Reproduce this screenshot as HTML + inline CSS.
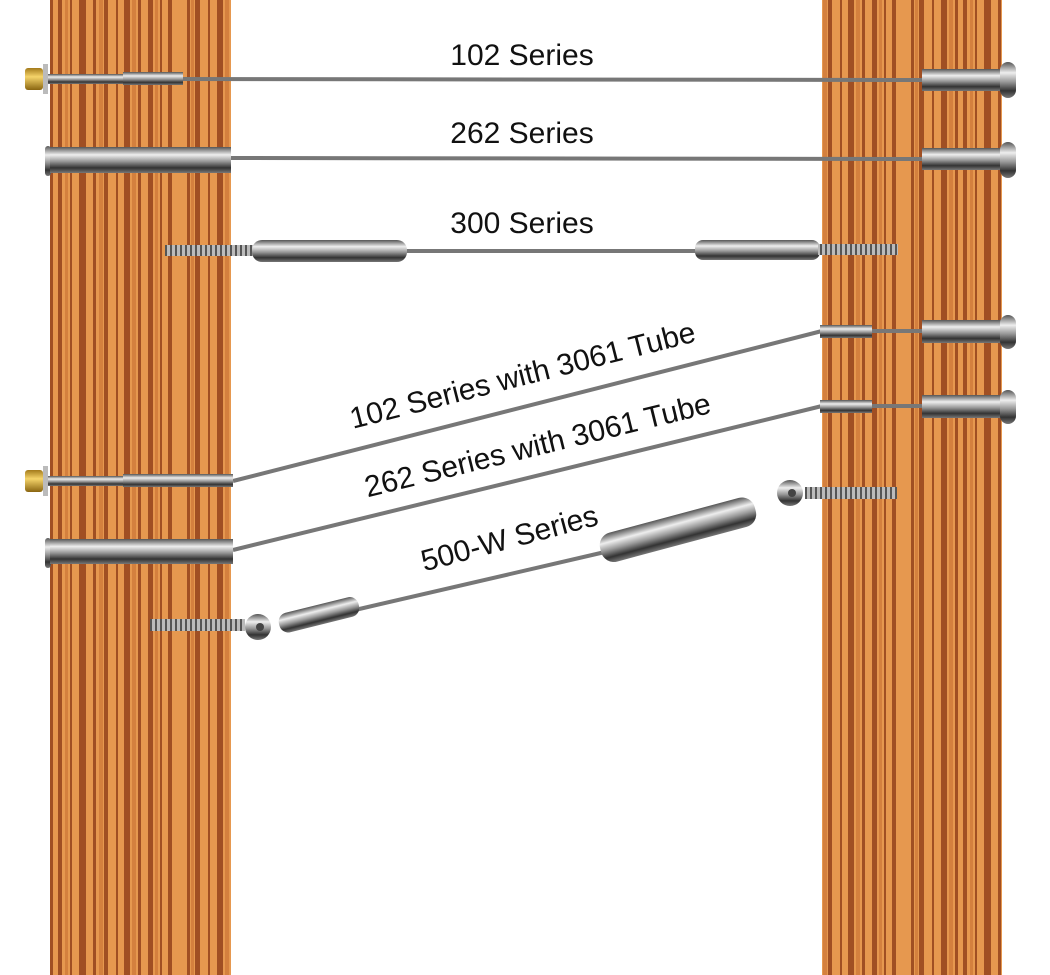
<!DOCTYPE html>
<html><head><meta charset="utf-8"><style>
html,body{margin:0;padding:0;background:#fff;}
svg{display:block;}
text{font-family:"Liberation Sans",sans-serif;fill:#111;}
</style></head><body>
<svg width="1050" height="975" viewBox="0 0 1050 975" xmlns="http://www.w3.org/2000/svg">
<defs>
<pattern id="wood" width="181" height="975" patternUnits="userSpaceOnUse">
<rect width="181" height="975" fill="#e6984f"/>
<g fill="#94421a" opacity="0.85">
<rect x="6" width="3" height="975"/><rect x="14" width="5" height="975"/><rect x="27" width="2" height="975"/>
<rect x="36" width="6" height="975"/><rect x="50" width="3" height="975"/><rect x="58" width="4" height="975"/>
<rect x="70" width="2" height="975"/><rect x="79" width="7" height="975"/><rect x="93" width="3" height="975"/>
<rect x="104" width="4" height="975"/><rect x="116" width="2" height="975"/><rect x="124" width="6" height="975"/>
<rect x="138" width="3" height="975"/><rect x="148" width="5" height="975"/><rect x="160" width="2" height="975"/>
<rect x="168" width="4" height="975"/>
</g>
<g fill="#c86f32" opacity="0.6">
<rect x="10" width="3" height="975"/><rect x="44" width="4" height="975"/><rect x="65" width="3" height="975"/>
<rect x="99" width="4" height="975"/><rect x="132" width="4" height="975"/><rect x="155" width="3" height="975"/>
</g>
</pattern>
<linearGradient id="steel" x1="0" y1="0" x2="0" y2="1">
<stop offset="0" stop-color="#555"/><stop offset="0.3" stop-color="#eee"/><stop offset="0.55" stop-color="#999"/><stop offset="0.8" stop-color="#333"/><stop offset="1" stop-color="#777"/>
</linearGradient>
<linearGradient id="brass" x1="0" y1="0" x2="0" y2="1">
<stop offset="0" stop-color="#a37a1a"/><stop offset="0.4" stop-color="#f5d46a"/><stop offset="1" stop-color="#8a6510"/>
</linearGradient>
<pattern id="thread" width="5" height="12" patternUnits="userSpaceOnUse">
<rect width="5" height="12" fill="#bbb"/><rect width="2" height="12" fill="#555"/>
</pattern>
</defs>
<rect x="50" y="0" width="181" height="975" fill="url(#wood)"/>
<rect x="822" y="0" width="180" height="975" fill="url(#wood)"/>

<g stroke="#777" stroke-width="4" fill="none">
<line x1="180" y1="79" x2="925" y2="80"/>
<line x1="230" y1="158" x2="925" y2="159"/>
<line x1="400" y1="251" x2="700" y2="251"/>
<line x1="233" y1="481" x2="822" y2="331"/>
<line x1="233" y1="550" x2="822" y2="406"/>
<line x1="355" y1="610" x2="605" y2="552"/>
<line x1="870" y1="331" x2="925" y2="331"/>
<line x1="870" y1="406" x2="925" y2="406"/>
</g>

<!-- row1 -->
<rect x="25" y="68" width="18" height="22" rx="3" fill="url(#brass)"/>
<rect x="43" y="64" width="5" height="30" fill="#bbb"/>
<rect x="48" y="74" width="75" height="10" fill="url(#steel)"/>
<rect x="123" y="72" width="60" height="13" fill="url(#steel)"/>
<rect x="922" y="69" width="80" height="22" fill="url(#steel)"/>
<rect x="1000" y="62" width="16" height="36" rx="8" fill="url(#steel)"/>
<!-- row2 -->
<rect x="45" y="146" width="6" height="30" rx="3" fill="url(#steel)"/>
<rect x="50" y="147" width="181" height="26" fill="url(#steel)"/>
<rect x="922" y="148" width="80" height="22" fill="url(#steel)"/>
<rect x="1000" y="142" width="16" height="36" rx="8" fill="url(#steel)"/>
<!-- row3 -->
<rect x="165" y="245" width="90" height="11" fill="url(#thread)"/>
<rect x="252" y="240" width="155" height="22" rx="10" fill="url(#steel)"/>
<rect x="695" y="240" width="125" height="20" rx="8" fill="url(#steel)"/>
<rect x="818" y="244" width="80" height="11" fill="url(#thread)"/>
<!-- row4 -->
<rect x="25" y="470" width="18" height="22" rx="3" fill="url(#brass)"/>
<rect x="43" y="466" width="5" height="30" fill="#bbb"/>
<rect x="48" y="476" width="75" height="10" fill="url(#steel)"/>
<rect x="123" y="474" width="110" height="13" fill="url(#steel)"/>
<rect x="820" y="325" width="52" height="13" fill="url(#steel)"/>
<rect x="922" y="320" width="80" height="23" fill="url(#steel)"/>
<rect x="1000" y="315" width="16" height="34" rx="8" fill="url(#steel)"/>
<!-- row5 -->
<rect x="45" y="538" width="6" height="30" rx="3" fill="url(#steel)"/>
<rect x="50" y="539" width="183" height="25" fill="url(#steel)"/>
<rect x="820" y="400" width="52" height="13" fill="url(#steel)"/>
<rect x="922" y="395" width="80" height="23" fill="url(#steel)"/>
<rect x="1000" y="390" width="16" height="34" rx="8" fill="url(#steel)"/>
<!-- row6 -->
<rect x="150" y="619" width="95" height="12" fill="url(#thread)"/>
<circle cx="258" cy="627" r="13" fill="url(#steel)"/>
<circle cx="260" cy="627" r="4" fill="#444"/>
<g transform="rotate(-14 318 615)"><rect x="278" y="605" width="82" height="20" rx="9" fill="url(#steel)"/></g>
<g transform="rotate(-15 677 530)"><rect x="598" y="515" width="160" height="30" rx="13" fill="url(#steel)"/></g>
<circle cx="790" cy="493" r="13" fill="url(#steel)"/>
<circle cx="792" cy="493" r="4" fill="#444"/>
<rect x="805" y="487" width="92" height="12" fill="url(#thread)"/>

<text x="522" y="65" font-size="30" text-anchor="middle">102 Series</text>
<text x="522" y="143" font-size="30" text-anchor="middle">262 Series</text>
<text x="522" y="233" font-size="30" text-anchor="middle">300 Series</text>
<text x="0" y="0" font-size="30" text-anchor="middle" transform="translate(525,385) rotate(-14.3)">102 Series with 3061 Tube</text>
<text x="0" y="0" font-size="30" text-anchor="middle" transform="translate(540,455) rotate(-13.8)">262 Series  with 3061 Tube</text>
<text x="0" y="0" font-size="30" text-anchor="middle" transform="translate(512,548) rotate(-15)">500-W Series</text>
</svg>
</body></html>
